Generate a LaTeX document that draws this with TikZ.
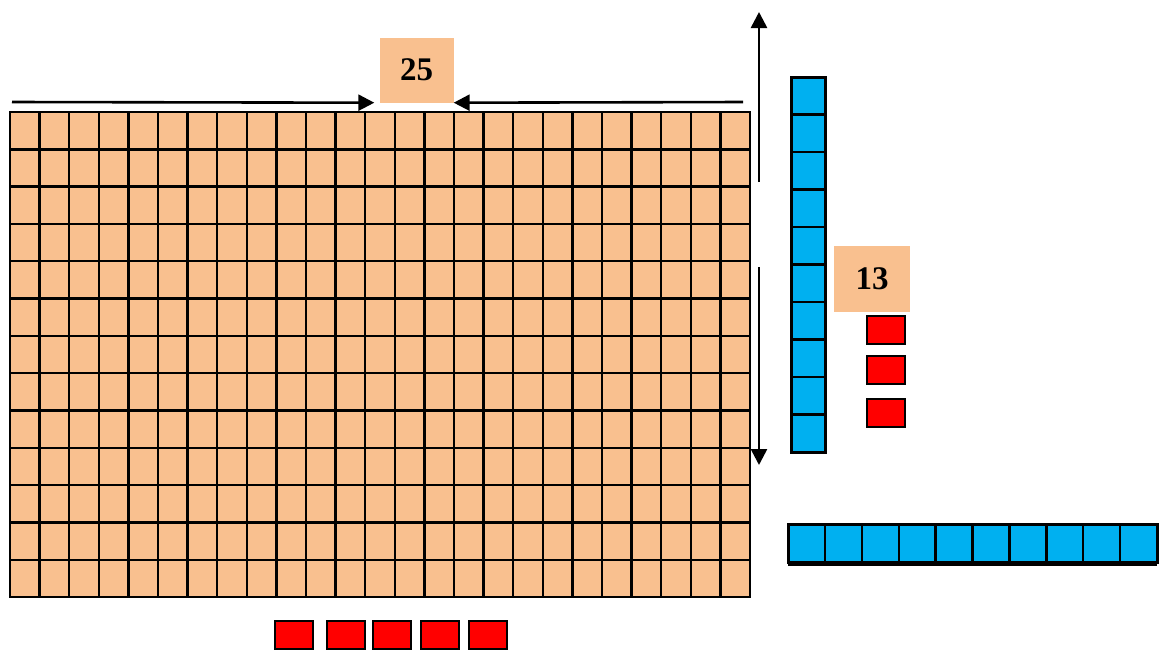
\documentclass[tikz,border=0pt]{standalone}
\usepackage{fontspec}
\setmainfont{Liberation Serif}
\usetikzlibrary{arrows.meta, positioning}
\definecolor{areaPeach}{HTML}{F9C08F}
\definecolor{tenBlue}{HTML}{00B0F0}
\definecolor{oneRed}{HTML}{FF0000}

\begin{document}
\begin{tikzpicture}[x=1pt, y=-1pt,
    cellline/.style={black, line width=2.4pt},
    numbox/.style={fill=areaPeach, inner sep=0pt, minimum width=74pt, minimum height=65pt,
                   font=\fontsize{33}{36}\selectfont\bfseries},
    onecube/.style={fill=oneRed, draw=black, line width=2.4pt, inner sep=0pt,
                    minimum width=38pt, minimum height=28pt},
    dimarrow/.style={-{Triangle[length=16pt, width=16pt]}, line width=2.6pt}]
    \useasboundingbox (0,0) rectangle (1159,649);

    % the 25 x 13 area
    \fill[areaPeach] (10,112) rectangle (750,597);
    \foreach \c in {0,...,25}
        \draw[cellline] ({10+29.6*\c},112) -- ({10+29.6*\c},597);
    \foreach \r in {0,...,13}
        \draw[cellline] (10,{112+37.31*\r}) -- (750,{112+37.31*\r});
    \draw[cellline] (10,112) rectangle (750,597);

    % labels
    \node[numbox] (n25) at (416.5,70) {25};
    \node[numbox, minimum width=76pt, minimum height=66pt] (n13) at (872,279) {13};

    % dimension arrows
    \coordinate (topL) at (12,102);
    \coordinate (topR) at (743,102);
    \draw[dimarrow] (topL) -- ([xshift=-5pt]n25.south west);
    \draw[dimarrow] (topR) -- (n25.south east);
    \coordinate (upS) at (759,182);
    \coordinate (upE) at (759,12);
    \coordinate (dnS) at (759,267);
    \coordinate (dnE) at (759,465);
    \draw[dimarrow] (upS) -- (upE);
    \draw[dimarrow] (dnS) -- (dnE);

    % vertical ten rod
    \fill[tenBlue] (791,77) rectangle (825,452);
    \foreach \r in {1,...,9}
        \draw[cellline] (791,{77+37.5*\r}) -- (825,{77+37.5*\r});
    \draw[black, line width=3pt] (791,77) rectangle (825,452);

    % horizontal ten rod
    \fill[tenBlue] (788,524) rectangle (1157,562);
    \foreach \c in {1,...,9}
        \draw[cellline] ({788+36.9*\c},524) -- ({788+36.9*\c},562);
    \draw[black, line width=3pt] (788,524) rectangle (1157,562);
    \draw[black, line width=4.5pt] (788,564) -- (1157,564);

    % ones
    \foreach \y [count=\i] in {330,370,413}
        \node[onecube] (rone\i) at (886,\y) {};
    \foreach \x [count=\i] in {294,346,392,440,488}
        \node[onecube] (bone\i) at (\x,635) {};
\end{tikzpicture}
\end{document}
